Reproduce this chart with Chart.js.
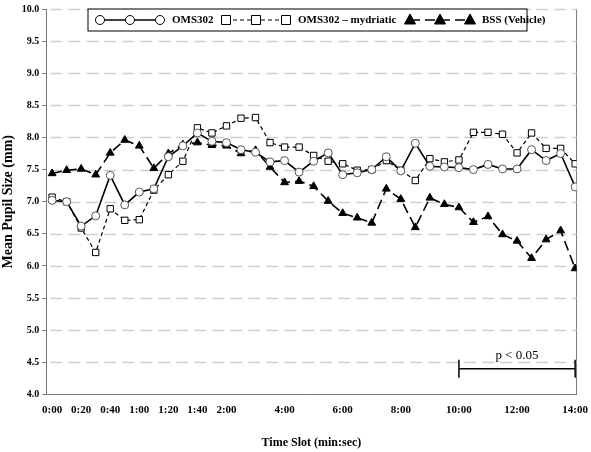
<!DOCTYPE html>
<html><head><meta charset="utf-8">
<script src="https://cdn.jsdelivr.net/npm/chart.js@4"></script>
<style>body{margin:0;background:#fff}#wrap{width:591px;height:452px}</style>
</head><body><div id="wrap"><canvas id="c"></canvas></div>
<script>
// etiquetas del eje x (una por marca, vacías donde no hay texto)
const tickLabels = ['0:00','0:20','0:40','1:00','1:20','1:40','2:00','','4:00','','6:00','','8:00','','10:00','','12:00','','14:00'];
// posición de cada punto en unidades de marca (medio paso)
const slots = Array.from({length: 37}, (_, i) => i / 2);
const oms302 = [7.02,7.0,6.62,6.78,7.41,6.95,7.15,7.2,7.7,7.87,8.07,7.94,7.92,7.81,7.77,7.62,7.64,7.46,7.63,7.76,7.42,7.45,7.5,7.7,7.48,7.91,7.55,7.54,7.53,7.5,7.58,7.51,7.51,7.81,7.64,7.75,7.23];
const mydriatic = [7.07,7.0,6.59,6.21,6.89,6.71,6.72,7.18,7.42,7.63,8.15,8.07,8.18,8.3,8.31,7.92,7.85,7.85,7.72,7.63,7.59,7.49,7.5,7.64,7.49,7.33,7.67,7.62,7.65,8.08,8.08,8.05,7.76,8.07,7.83,7.83,7.59];
const bss = [7.44,7.49,7.51,7.42,7.76,7.96,7.87,7.52,7.75,7.89,7.92,7.88,7.87,7.75,7.8,7.54,7.3,7.32,7.24,7.01,6.82,6.75,6.67,7.2,7.04,6.6,7.06,6.96,6.91,6.68,6.77,6.49,6.39,6.12,6.41,6.55,5.96];
const seriesNames = ['OMS302','OMS302 \u2013 mydriatic','BSS (Vehicle)'];
const sig = {from: 14, to: 18, label: 'p < 0.05'};

const font = 'Liberation Serif, Times New Roman, serif';
const pts = arr => arr.map((v, i) => ({x: slots[i], y: v}));

const styles = [
  {dash: [], pointStyle: 'circle', fill: '#fff', radius: 4, width: 1.6},
  {dash: [4, 3], pointStyle: 'rect', fill: '#fff', radius: 4.5, width: 1.2},
  {dash: [10, 5], pointStyle: 'triangle', fill: '#000', radius: 4.5, width: 1.6}
];

// rejilla discontinua detrás de las series
const gridLines = {
  id: 'gridLines',
  beforeDatasetsDraw(chart) {
    const c = chart.ctx, ys = chart.scales.y, a = chart.chartArea;
    c.save(); c.strokeStyle = '#cfcfcf'; c.lineWidth = 1.5; c.setLineDash([12, 6]);
    for (let v = 4.5; v <= 10; v += 0.5) {
      const y = Math.round(ys.getPixelForValue(v)) + 0.5;
      c.beginPath(); c.moveTo(a.left + 4, y); c.lineTo(a.right, y); c.stroke();
    }
    c.restore();
  }
};

// leyenda dentro del gráfico y marca de significación
const overlay = {
  id: 'overlay',
  afterDraw(chart) {
    const c = chart.ctx, xs = chart.scales.x, ys = chart.scales.y;
    c.save();
    const x1 = xs.getPixelForValue(sig.from), x2 = xs.getPixelForValue(sig.to);
    const yb = ys.getPixelForValue(4.4);
    c.strokeStyle = '#000'; c.lineWidth = 1.5; c.setLineDash([]);
    c.beginPath();
    c.moveTo(x1, yb); c.lineTo(x2, yb);
    c.moveTo(x1, yb - 9); c.lineTo(x1, yb + 9);
    c.moveTo(x2, yb - 9); c.lineTo(x2, yb + 9);
    c.stroke();
    c.fillStyle = '#000'; c.font = '13px ' + font;
    c.textAlign = 'center'; c.textBaseline = 'bottom';
    c.fillText(sig.label, (x1 + x2) / 2, yb - 7);
    // leyenda
    const bx = 88, by = 9, bw = 439, bh = 22;
    c.fillStyle = '#fff'; c.fillRect(bx, by, bw, bh);
    c.lineWidth = 1; c.strokeRect(bx, by, bw, bh);
    const starts = [100, 226, 410];
    const cy = by + bh / 2;
    styles.forEach((s, i) => {
      const x0 = starts[i], len = 60;
      c.setLineDash(s.dash); c.lineWidth = s.width;
      c.beginPath(); c.moveTo(x0, cy); c.lineTo(x0 + len, cy); c.stroke();
      c.setLineDash([]); c.lineWidth = 1;
      [x0, x0 + len / 2, x0 + len].forEach(px => {
        c.fillStyle = s.fill;
        c.beginPath();
        if (s.pointStyle === 'circle') c.arc(px, cy, 4.5, 0, Math.PI * 2);
        else if (s.pointStyle === 'rect') c.rect(px - 4.5, cy - 4.5, 9, 9);
        else { c.moveTo(px, cy - 6); c.lineTo(px + 5.5, cy + 4); c.lineTo(px - 5.5, cy + 4); c.closePath(); }
        c.fill(); c.stroke();
      });
      c.fillStyle = '#000'; c.font = 'bold 11px ' + font;
      c.textAlign = 'left'; c.textBaseline = 'middle';
      c.fillText(seriesNames[i], x0 + len + 12, cy);
    });
    c.restore();
  }
};

new Chart(document.getElementById('c'), {
  type: 'line',
  data: {
    datasets: [oms302, mydriatic, bss].map((arr, i) => ({
      label: seriesNames[i],
      data: pts(arr),
      borderColor: '#000',
      borderWidth: styles[i].width,
      borderDash: styles[i].dash,
      pointStyle: styles[i].pointStyle,
      pointRadius: styles[i].radius,
      pointBackgroundColor: styles[i].fill,
      pointBorderColor: i === 0 ? '#555' : '#000',
      pointBorderWidth: 1,
      tension: 0
    }))
  },
  options: {
    responsive: true, maintainAspectRatio: false, animation: false,
    layout: {padding: {top: 0, right: 4, left: 0, bottom: 0}},
    plugins: {legend: {display: false}, tooltip: {enabled: false}},
    scales: {
      x: {
        type: 'linear', min: -0.2, max: 18.05,
        afterBuildTicks: ax => { ax.ticks = tickLabels.map((_, i) => ({value: i})); },
        ticks: {autoSkip: false, maxRotation: 0, color: '#000', font: {family: font, weight: 'bold', size: 11},
          callback: (v) => tickLabels[Math.round(v)] ?? ''},
        grid: {display: false, drawTicks: true, tickLength: 6, tickColor: '#777'},
        border: {color: '#777'},
        title: {display: true, text: 'Time Slot (min:sec)', color: '#000', font: {family: font, weight: 'bold', size: 12}, padding: {top: 16, bottom: 2}}
      },
      y: {
        min: 4, max: 10,
        ticks: {stepSize: 0.5, color: '#000', font: {family: font, weight: 'bold', size: 10},
          callback: v => v.toFixed(1)},
        grid: {drawOnChartArea: false, tickColor: '#777', tickLength: 4},
        border: {color: '#777'},
        title: {display: true, text: 'Mean Pupil Size (mm)', color: '#000', font: {family: font, weight: 'bold', size: 14}, padding: {top: 0, bottom: 2}}
      }
    }
  },
  plugins: [gridLines, overlay, {
    id: 'frame',
    beforeDraw(chart) {
      const a = chart.chartArea, c = chart.ctx;
      c.save(); c.strokeStyle = '#777'; c.lineWidth = 1;
      c.beginPath(); c.moveTo(a.right, a.top); c.lineTo(a.right, a.bottom); c.stroke();
      c.restore();
    }
  }]
});
</script></body></html>
